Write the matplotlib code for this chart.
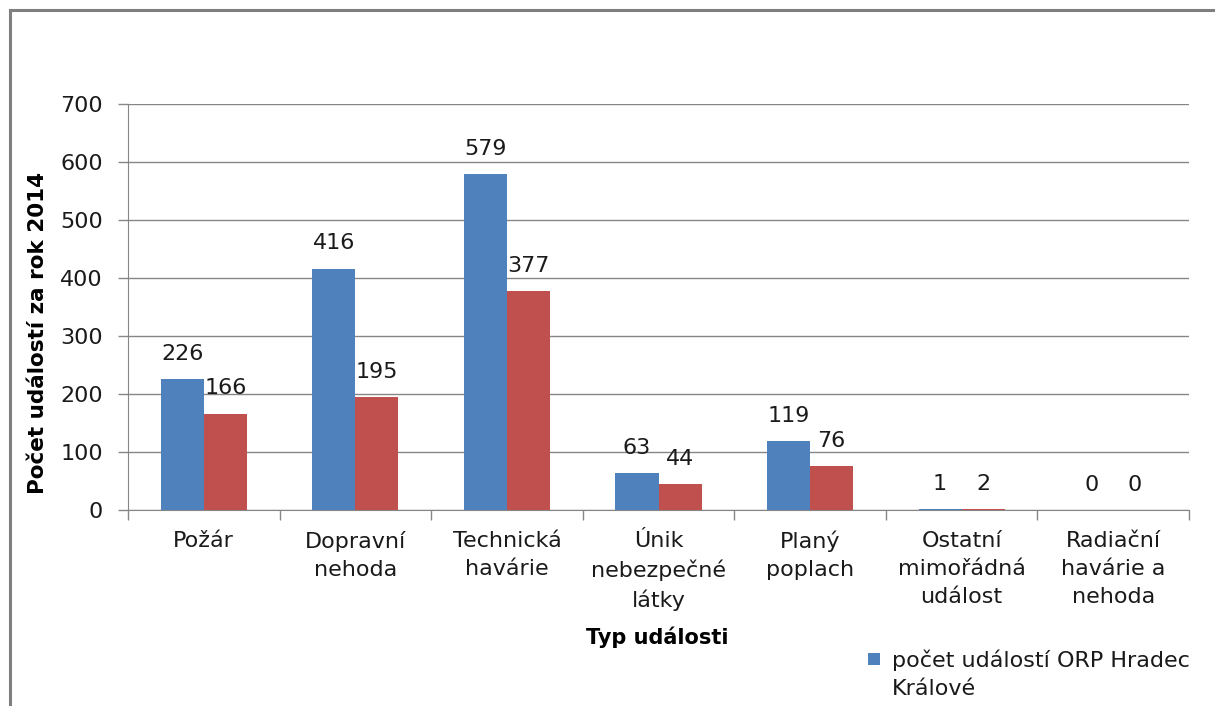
import matplotlib
matplotlib.use("Agg")
import matplotlib.pyplot as plt
from matplotlib.patches import Rectangle
from matplotlib.lines import Line2D
import numpy as np

categories = ["Požár", "Dopravní\nnehoda", "Technická\nhavárie", "Únik\nnebezpečné\nlátky",
              "Planý\npoplach", "Ostatní\nmimořádná\nudálost", "Radiační\nhavárie a\nnehoda"]
orp_values = [226, 416, 579, 63, 119, 1, 0]
kraj_values = [166, 195, 377, 44, 76, 2, 0]
yticks = [0, 100, 200, 300, 400, 500, 600, 700]
legend_label = "počet událostí ORP Hradec\nKrálové"

plt.rcParams['font.family'] = ['DejaVu Sans']
W, H = 1215, 706
fig = plt.figure(figsize=(W/100, H/100), dpi=100)
ax = fig.add_axes([128/W, 1-510/H, (1189-128)/W, (510-104)/H])

blue = "#4F81BD"
red = "#C0504D"
grid_c = "#868686"
txt_c = "#1a1a1a"
fs = 16
n = len(categories)
x = np.arange(n)
bw = 0.284
ax.bar(x - bw/2, orp_values, bw, color=blue, zorder=3)
ax.bar(x + bw/2, kraj_values, bw, color=red, zorder=3)

for xi, v in zip(x - bw/2, orp_values):
    ax.annotate(str(v), (xi, v), xytext=(0, 11), textcoords="offset points",
                ha="center", va="bottom", fontsize=fs, color=txt_c)
for xi, v in zip(x + bw/2, kraj_values):
    ax.annotate(str(v), (xi, v), xytext=(0, 11), textcoords="offset points",
                ha="center", va="bottom", fontsize=fs, color=txt_c)

ax.set_xlim(-0.5, n - 0.5)
ax.set_ylim(0, 700)
ax.set_yticks(yticks)
ax.set_yticklabels([str(t) for t in yticks], fontsize=fs, color=txt_c)
ax.yaxis.grid(True, color=grid_c, lw=1.0, zorder=0)
ax.tick_params(axis='y', length=7, width=1, color=grid_c, pad=11)

ax.set_xticks(x)
ax.set_xticklabels(categories, fontsize=fs, color=txt_c, linespacing=1.5, va="top")
ax.tick_params(axis='x', length=0, pad=15)
ax.set_xticks(np.arange(n + 1) - 0.5, minor=True)
ax.tick_params(axis='x', which='minor', length=7, width=1, color=grid_c)

for s in ["top", "right"]:
    ax.spines[s].set_visible(False)
ax.spines["left"].set_color(grid_c)
ax.spines["bottom"].set_color(grid_c)

fig.text(38/W, 1-333/H, "Počet událostí za rok 2014", fontsize=15.5, fontweight="bold",
         rotation=90, ha="center", va="center", color="#000000")
fig.text(657/W, 1-637/H, "Typ události", fontsize=15, fontweight="bold", ha="center", va="center")

# legend (manual)
fig.patches.append(Rectangle((868/W, 1-665/H), 12/W, 12/H, transform=fig.transFigure,
                             facecolor=blue, edgecolor="none"))
fig.text(892/W, 1-660/H, "počet událostí ORP Hradec", fontsize=fs, va="center", ha="left", color=txt_c)
fig.text(892/W, 1-689/H, "Králové", fontsize=fs, va="center", ha="left", color=txt_c)

fig.add_artist(Line2D([10/W, 1.0], [1-10/H, 1-10/H], transform=fig.transFigure, color="#7f7f7f", lw=2.2))
fig.add_artist(Line2D([10/W, 10/W], [0, 1-10/H], transform=fig.transFigure, color="#7f7f7f", lw=2.2))

fig.savefig("out.png", dpi=100)
